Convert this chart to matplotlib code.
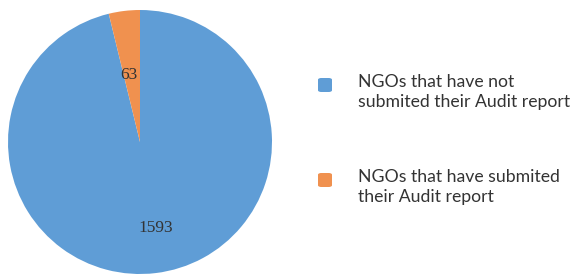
import matplotlib.pyplot as plt
from matplotlib.patches import FancyBboxPatch

labels = ["NGOs that have not\nsubmited their Audit report",
          "NGOs that have submited\ntheir Audit report"]
values = [1593, 63]
colors = ["#5f9dd6", "#f0914f"]

fig = plt.figure(figsize=(5.72, 2.74), dpi=100)
W, H = 572, 274

# pie axes: centre ~ (140,142) px, radius ~132 px
ax = fig.add_axes([8 / W, 0, 264 / W, 264 / H])
total = sum(values)
wedges, texts, autotexts = ax.pie(values, colors=colors, startangle=90, counterclock=False,
                                  autopct=lambda p: "%d" % round(p * total / 100),
                                  pctdistance=0.66, radius=1.0,
                                  wedgeprops=dict(linewidth=0),
                                  textprops=dict(family="Liberation Serif", size=12.5, color="#333333"))
x, y = autotexts[0].get_position()
autotexts[0].set_position((x + 0.04, y))
x, y = autotexts[1].get_position()
autotexts[1].set_position((x * 0.85 - 0.02, y * 0.77))
ax.set_xlim(-1, 1)
ax.set_ylim(-1, 1)
ax.set_aspect("equal")

# legend drawn by hand
ys = [85, 180]
for lab, col, yc in zip(labels, colors, ys):
    box = FancyBboxPatch(((318) / W, 1 - (yc + 7) / H), 14 / W, 14 / H,
                         boxstyle="round,pad=0,rounding_size=0.006",
                         transform=fig.transFigure, facecolor=col, edgecolor="none")
    fig.patches.append(box)
    fig.text(358 / W, 1 - (yc - 11) / H, lab, family="Lato", size=12.7, color="#333333",
             va="top", ha="left", linespacing=1.3)

fig.savefig("out.png", dpi=100)
